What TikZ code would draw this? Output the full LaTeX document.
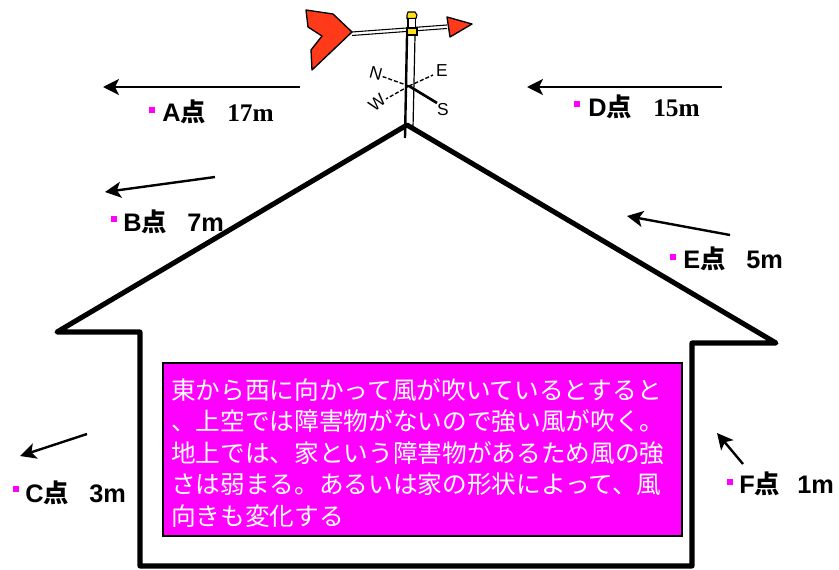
\documentclass[tikz,border=0pt]{standalone}
\usepackage{fontspec}
\setmainfont{Liberation Sans}
\newfontfamily\jp{Noto Sans CJK JP}
\newfontfamily\jpb{Noto Sans CJK JP Bold}
\newfontfamily\serifnum{Liberation Serif}
\usetikzlibrary{arrows.meta}
\definecolor{hotpink}{HTML}{FF00FF}
\definecolor{vanered}{HTML}{FF3A1A}
\definecolor{capyellow}{HTML}{FFE020}
\tikzset{
  wall/.style={line width=3.8pt, line join=round, line cap=round},
  wind/.style={line width=1.8pt, -{Stealth[length=12pt,width=12pt,inset=3pt]}},
  bul/.style={fill=hotpink, minimum size=4.5pt, inner sep=0pt},
  lbl/.style={inner sep=0pt, anchor=base west, font=\fontsize{19}{22}\selectfont\bfseries},
  val/.style={inner sep=0pt, anchor=base west, font=\fontsize{19}{22}\selectfont\bfseries},
  serifval/.style={val, font=\fontsize{19}{22}\selectfont\serifnum\bfseries},
  note/.style={inner sep=0pt, anchor=base west, text=white, font=\jp\fontsize{18.5}{23.6}\selectfont},
  hand/.style={inner sep=0pt, font=\fontsize{13}{14}\selectfont},
}
\begin{document}
\begin{tikzpicture}[x=0.75pt,y=-0.75pt]
\useasboundingbox (0,0) rectangle (839,570);

% house outline
\draw[wall] (692,343) -- (776,343) -- (407,125) -- (57,332) -- (140,332)
  -- (140,566) -- (692,566) -- cycle;

% explanation panel
\node[draw=black, line width=1.5pt, fill=hotpink, minimum width=519*0.75pt,
      minimum height=173*0.75pt, inner sep=0pt, anchor=north west] (panel) at (162,362) {};
\node[note] (t1) at (171,399)   {東から西に向かって風が吹いているとすると};
\node[note] (t2) at (171,430.5) {、上空では障害物がないので強い風が吹く。};
\node[note] (t3) at (171,462)   {地上では、家という障害物があるため風の強};
\node[note] (t4) at (171,493.5) {さは弱まる。あるいは家の形状によって、風};
\node[note] (t5) at (171,525)   {向きも変化する};

% weather vane: pole
\draw[line width=1.8pt] (407,36) -- (405,138);
\draw[line width=0.9pt] (415,36) -- (413,128);
% rod
\draw[line width=0.8pt] (352,32) -- (447,25);
\draw[line width=0.8pt] (352,35.5) -- (447,28.5);
% tail
\draw[fill=vanered, line width=1pt, line join=round]
  (306,10) -- (333,14) -- (352,32) -- (312,70) -- (311,50) -- (322,36) -- (308,27) -- cycle;
% pointer
\draw[fill=vanered, line width=1pt, line join=round] (447,17) -- (472,24) -- (450,37) -- cycle;
% cap
\draw[fill=capyellow, line width=0.8pt] (407,15) -- (408,12) -- (415,12) -- (417,15) -- (416,18.5) -- (407,18.5) -- cycle;
\draw[fill=white, line width=0.8pt] (408,18.5) rectangle (415.5,28);
\draw[fill=capyellow, line width=0.8pt] (407,28) rectangle (417,35);
% compass arms
\coordinate (hub) at (409,86);
\draw[line width=1pt, dash pattern=on 3pt off 1.5pt] (hub) -- (381,76);
\draw[line width=1pt, dash pattern=on 3pt off 1.5pt] (hub) -- (433,75);
\draw[line width=1pt, dash pattern=on 3pt off 1.5pt] (hub) -- (386,99);
\draw[line width=2pt] (hub) -- (437,103);
\node[hand, rotate=-15] (cn) at (376,73) {N};
\node[hand] (ce) at (442,71) {E};
\node[hand, rotate=40] (cw) at (377,103) {W};
\node[hand] (cs) at (443,110) {S};

% wind arrows
\coordinate (a1) at (300,87);  \coordinate (a2) at (103,87);
\coordinate (d1) at (722,87);  \coordinate (d2) at (527,87);
\coordinate (b1) at (215,177); \coordinate (b2) at (105,192);
\coordinate (e1) at (730,235); \coordinate (e2) at (627,216);
\coordinate (c1) at (87,434);  \coordinate (c2) at (20,456);
\coordinate (f1) at (743,464); \coordinate (f2) at (717,433);
\draw[wind] (a1) -- (a2);
\draw[wind] (d1) -- (d2);
\draw[wind] (b1) -- (b2);
\draw[wind] (e1) -- (e2);
\draw[wind] (c1) -- (c2);
\draw[wind] (f1) -- (f2);

% point labels
\node[bul] (ba) at (152,110) {};
\node[lbl] (la) at (162,122) {A{\jpb 点}};
\node[serifval] (va) at (227,122) {17m};

\node[bul] (bb) at (114,219) {};
\node[lbl] (lb) at (123,232) {B{\jpb 点}};
\node[val] (vb) at (187,232) {7m};

\node[bul] (bc) at (16,489) {};
\node[lbl] (lc) at (25,502) {C{\jpb 点}};
\node[val] (vc) at (89,502) {3m};

\node[bul] (bd) at (577,104) {};
\node[lbl] (ld) at (588,117) {D{\jpb 点}};
\node[serifval] (vd) at (653,117) {15m};

\node[bul] (be) at (673,257) {};
\node[lbl] (le) at (683,269) {E{\jpb 点}};
\node[val] (ve) at (746,269) {5m};

\node[bul] (bf) at (730,482) {};
\node[lbl] (lf) at (739,493) {F{\jpb 点}};
\node[val] (vf) at (797,493) {1m};
\end{tikzpicture}
\end{document}
